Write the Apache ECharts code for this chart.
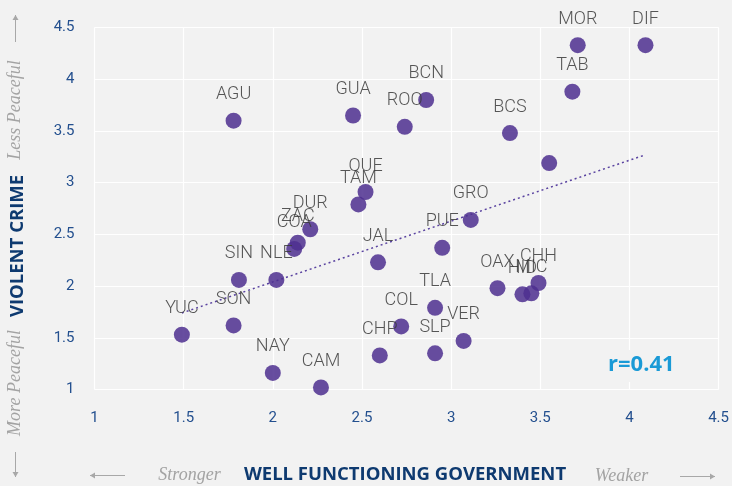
<!DOCTYPE html>
<html>
<head>
<meta charset="utf-8">
<script src="https://cdn.jsdelivr.net/npm/echarts@6/dist/echarts.min.js"></script>
<style>
  html, body { margin: 0; padding: 0; background: #f2f2f2; }
  #chart { width: 732px; height: 486px; }
</style>
</head>
<body>
<div id="chart"></div>
<script>
// State codes, governance score (x) and violent crime score (y)
const states = ['MOR','DIF','TAB','BCN','ROO','BCS','MEX','AGU','GUA','QUE','TAM','DUR','ZAC','COA','SIN','NLE','SON','YUC','NAY','CAM','GRO','PUE','JAL','TLA','COL','CHP','SLP','VER','OAX','HID','MIC','CHH'];
const governance = [3.71,4.09,3.68,2.86,2.74,3.33,3.55,1.78,2.45,2.52,2.48,2.21,2.14,2.12,1.81,2.02,1.78,1.49,2.00,2.27,3.11,2.95,2.59,2.91,2.72,2.60,2.91,3.07,3.26,3.40,3.45,3.49];
const violentCrime = [4.33,4.33,3.88,3.80,3.54,3.48,3.19,3.60,3.65,2.91,2.79,2.55,2.42,2.36,2.06,2.06,1.62,1.53,1.16,1.02,2.64,2.37,2.23,1.79,1.61,1.33,1.35,1.47,1.98,1.92,1.93,2.03];
// States whose label is left off the plot
const unlabeled = ['MEX'];

// Linear trend endpoints (governance, violent crime)
const trendStart = [1.49, 1.74];
const trendEnd = [4.09, 3.27];

const xTicks = { min: 1, max: 4.5, step: 0.5 };
const yTicks = { min: 1, max: 4.5, step: 0.5 };
const correlation = 'r=0.41';

const points = states.map((s, i) => ({
  name: s,
  value: [governance[i], violentCrime[i]],
  label: { show: unlabeled.indexOf(s) < 0 }
}));

const tickColor = '#24508f';
const titleColor = '#0e3a70';
const hintColor = '#a3a3a3';
const arrowColor = '#a8a8a8';

const chart = echarts.init(document.getElementById('chart'), null, { renderer: 'canvas' });

function arrow(x1, y1, x2, y2) {
  // shaft plus a small head at (x2, y2)
  const dx = x2 - x1, dy = y2 - y1;
  const len = Math.sqrt(dx * dx + dy * dy);
  const ux = dx / len, uy = dy / len;
  const h = 5, w = 3;
  return [
    { type: 'line', shape: { x1, y1, x2, y2 }, style: { stroke: arrowColor, lineWidth: 1 } },
    { type: 'polygon', shape: { points: [
        [x2, y2],
        [x2 - ux * h - uy * w, y2 - uy * h + ux * w],
        [x2 - ux * h + uy * w, y2 - uy * h - ux * w]
      ] }, style: { fill: arrowColor } }
  ];
}

const option = {
  backgroundColor: '#f2f2f2',
  animation: false,
  grid: { left: 94.5, right: 9.6, top: 27.6, bottom: 96.5, containLabel: false },
  xAxis: {
    type: 'value', min: xTicks.min, max: xTicks.max, interval: xTicks.step,
    axisLine: { show: false }, axisTick: { show: false },
    splitLine: { show: true, lineStyle: { color: '#ffffff', width: 1.2 } },
    axisLabel: { color: tickColor, fontSize: 15, fontFamily: 'Roboto', margin: 21 }
  },
  yAxis: {
    type: 'value', min: yTicks.min, max: yTicks.max, interval: yTicks.step,
    axisLine: { show: false }, axisTick: { show: false },
    splitLine: { show: true, lineStyle: { color: '#ffffff', width: 1.2 } },
    axisLabel: { color: tickColor, fontSize: 15, fontFamily: 'Roboto', margin: 20, padding: [4, 0, 0, 0] }
  },
  series: [
    {
      type: 'line',
      data: [trendStart, trendEnd],
      symbol: 'none',
      lineStyle: { color: '#5a43a0', width: 1.5, type: [2, 3] },
      z: 1,
      silent: true
    },
    {
      type: 'scatter',
      data: points,
      symbolSize: 16,
      itemStyle: { color: '#4e2f8f', opacity: 0.85 },
      label: {
        show: true,
        position: 'top',
        distance: 9,
        formatter: '{b}',
        color: '#3a3a3a',
        fontSize: 18,
        fontFamily: 'Roboto',
        fontWeight: 300
      },
      z: 3
    }
  ],
  graphic: [
    // correlation note; its background masks the grid behind it
    {
      type: 'text', left: 604, top: 350, z: 10,
      style: {
        text: correlation, fill: '#1a9ad6', font: 'bold 22px "Open Sans"',
        backgroundColor: '#f2f2f2', padding: [4, 6, 6, 4]
      }
    },
    // vertical axis title and hints
    {
      type: 'text', x: 18, y: 246, rotation: Math.PI / 2, z: 10,
      style: { text: 'VIOLENT CRIME', fill: titleColor, font: 'bold 18.5px "Open Sans"', align: 'center', verticalAlign: 'middle' }
    },
    {
      type: 'text', x: 15, y: 110, rotation: Math.PI / 2, z: 10,
      style: { text: 'Less Peaceful', fill: hintColor, font: 'italic 18px "Liberation Serif"', align: 'center', verticalAlign: 'middle' }
    },
    {
      type: 'text', x: 15, y: 383, rotation: Math.PI / 2, z: 10,
      style: { text: 'More Peaceful', fill: hintColor, font: 'italic 18px "Liberation Serif"', align: 'center', verticalAlign: 'middle' }
    },
    ...arrow(15.5, 42, 15.5, 15),
    ...arrow(15.5, 452, 15.5, 477),
    // horizontal axis title and hints
    {
      type: 'text', x: 405, y: 475, z: 10,
      style: { text: 'WELL FUNCTIONING GOVERNMENT', fill: titleColor, font: 'bold 18.5px "Open Sans"', align: 'center', verticalAlign: 'middle' }
    },
    {
      type: 'text', x: 189.5, y: 475, z: 10,
      style: { text: 'Stronger', fill: hintColor, font: 'italic 18px "Liberation Serif"', align: 'center', verticalAlign: 'middle' }
    },
    {
      type: 'text', x: 621.5, y: 476, z: 10,
      style: { text: 'Weaker', fill: hintColor, font: 'italic 18px "Liberation Serif"', align: 'center', verticalAlign: 'middle' }
    },
    ...arrow(125, 475.5, 90, 475.5),
    ...arrow(680, 476.5, 715, 476.5)
  ]
};

chart.setOption(option);
</script>
</body>
</html>
